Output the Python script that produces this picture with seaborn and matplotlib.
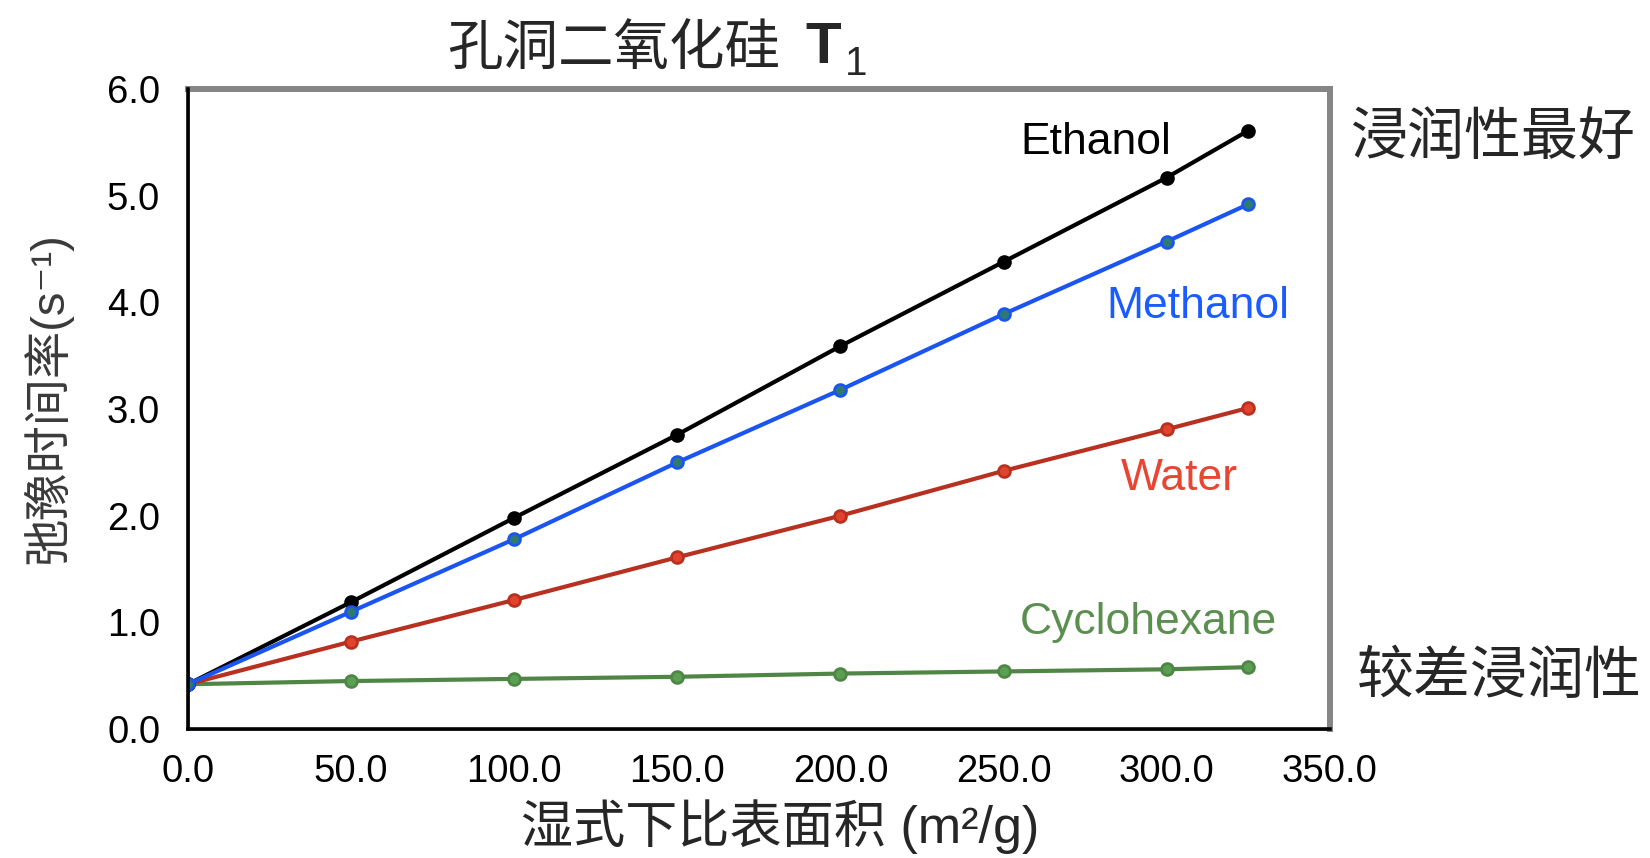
import matplotlib
matplotlib.use("Agg")
import matplotlib.pyplot as plt
from matplotlib.patches import Rectangle
import numpy as np
import pandas as pd
import seaborn as sns

# Specific surface area (m^2/g) and relaxation rates (s^-1) per solvent
surface_area = [0, 50, 100, 150, 200, 250, 300, 325]
ethanol = [0.42, 1.19, 1.98, 2.76, 3.59, 4.38, 5.17, 5.61]
methanol = [0.42, 1.10, 1.78, 2.50, 3.18, 3.89, 4.57, 4.92]
water = [0.42, 0.82, 1.21, 1.61, 2.00, 2.42, 2.81, 3.01]
cyclohexane = [0.42, 0.45, 0.47, 0.49, 0.52, 0.54, 0.56, 0.58]

solvents = ["Cyclohexane", "Water", "Ethanol", "Methanol"]
x_ticks = [0, 50, 100, 150, 200, 250, 300, 350]
y_ticks = [0, 1, 2, 3, 4, 5, 6]

title_cjk = "孔洞二氧化硅"
title_symbol = "T"
title_sub = "1"
xlabel_text = "湿式下比表面积 (m²/g)"
ylabel_text = "弛豫时间率(s⁻¹)"
best_text = "浸润性最好"
poor_text = "较差浸润性"

sns.set_style("white")
plt.rcParams["font.family"] = ["Liberation Sans", "Noto Sans CJK SC", "DejaVu Sans"]

df = pd.DataFrame({
    "area": surface_area * 4,
    "rate": cyclohexane + water + ethanol + methanol,
    "solvent": np.repeat(solvents, len(surface_area)),
})

line_colors = {"Ethanol": "#000000", "Methanol": "#1a55f2",
               "Water": "#b8301f", "Cyclohexane": "#4f8645"}
face_colors = {"Ethanol": "#000000", "Methanol": "#2f7a70",
               "Water": "#e2432c", "Cyclohexane": "#5aa052"}
text_colors = {"Ethanol": "#000000", "Methanol": "#1a5cff",
               "Water": "#e84532", "Cyclohexane": "#5b8f50"}

fig = plt.figure(figsize=(16.5, 8.58), dpi=100)
ax = fig.add_axes([0.1139, 0.1503, 0.6921, 0.746])

for name in solvents:
    sub = df[df["solvent"] == name]
    sns.lineplot(data=sub, x="area", y="rate", ax=ax, color=line_colors[name],
                 linewidth=3.0, marker="o", markersize=8.5,
                 markerfacecolor=face_colors[name],
                 markeredgecolor=line_colors[name], markeredgewidth=2.0,
                 legend=False)

ax.set_xlim(0, 350)
ax.set_ylim(0, 6)
ax.set_xticks(x_ticks)
ax.set_yticks(y_ticks)
ax.set_xticklabels([f"{v:.1f}" for v in x_ticks])
ax.set_yticklabels([f"{v:.1f}" for v in y_ticks])
ax.tick_params(axis="both", direction="out", length=10, width=2.2,
               labelsize=27.5, color="black", labelcolor="black")
ax.tick_params(axis="x", pad=8)
ax.tick_params(axis="y", pad=10)
ax.set_xlabel("")
ax.set_ylabel("")

for side in ["top", "right"]:
    ax.spines[side].set_color("#858585")
    ax.spines[side].set_linewidth(4.3)
for side in ["left", "bottom"]:
    ax.spines[side].set_color("black")
    ax.spines[side].set_linewidth(2.6)
    ax.spines[side].set_zorder(5)

# inner grey plot-area frame
ax.add_patch(Rectangle((0, 0), 1, 1, transform=ax.transAxes, fill=False,
                       edgecolor="#858585", linewidth=2.0, zorder=0.5,
                       clip_on=False))

# series labels
ax.text(255, 5.39, "Ethanol", color=text_colors["Ethanol"], fontsize=32)
ax.text(281.5, 3.85, "Methanol", color=text_colors["Methanol"], fontsize=32)
ax.text(286, 2.24, "Water", color=text_colors["Water"], fontsize=32)
ax.text(255, 0.89, "Cyclohexane", color=text_colors["Cyclohexane"], fontsize=32)

# title: Chinese name, bold T and its subscript
fig.text(0.2709, 0.940, title_cjk, ha="left", va="center", fontsize=40)
fig.text(0.488, 0.9266, title_symbol, ha="left", va="baseline", fontsize=42,
         fontweight="bold")
fig.text(0.512, 0.9126, title_sub, ha="left", va="baseline", fontsize=29)

fig.text(0.818, 0.838, best_text, ha="left", va="center", fontsize=41)
fig.text(0.8225, 0.21, poor_text, ha="left", va="center", fontsize=41)
fig.text(0.4727, 0.036, xlabel_text, ha="center", va="center", fontsize=37.5)
fig.text(0.0287, 0.536, ylabel_text, ha="center", va="center", fontsize=34,
         rotation=90, color="#3a3a3a")

fig.savefig("out.png", dpi=100)
